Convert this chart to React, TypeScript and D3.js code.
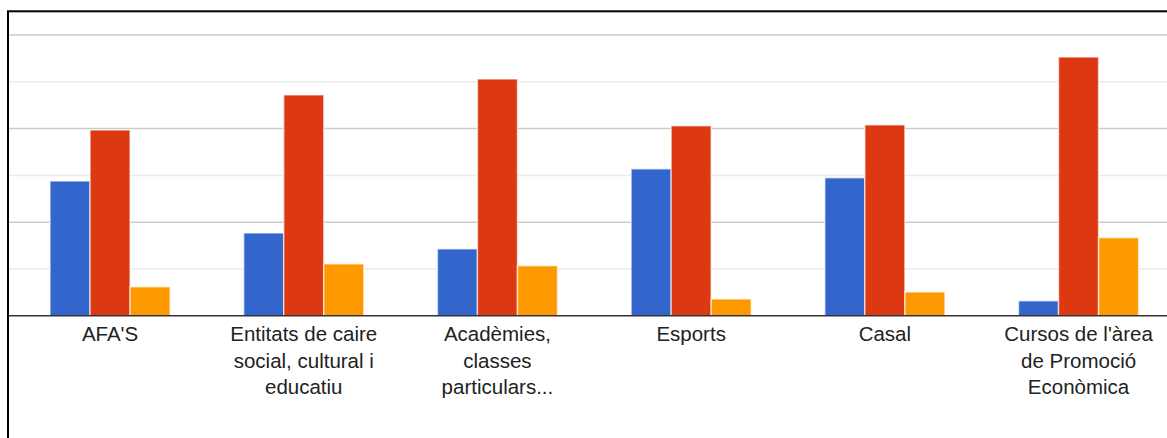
import React from "react";
import * as d3 from "d3";

const categories = ["AFA'S", "Entitats", "Acadèmies", "Esports", "Casal", "Cursos"];
const categoryLabels: string[][] = [
  ["AFA'S"],
  ["Entitats de caire", "social, cultural i", "educatiu"],
  ["Acadèmies,", "classes", "particulars..."],
  ["Esports"],
  ["Casal"],
  ["Cursos de l'àrea", "de Promoció", "Econòmica"],
];
const seriesNames = ["s1", "s2", "s3"];
const series1 = [2.88, 1.77, 1.43, 3.14, 2.95, 0.32];
const series2 = [3.97, 4.72, 5.06, 4.06, 4.08, 5.53];
const series3 = [0.62, 1.11, 1.07, 0.36, 0.51, 1.67];
const seriesValues = [series1, series2, series3];
const colors = ["#3366cc", "#dc3912", "#ff9900"];
const gridTicks = [1, 2, 3, 4, 5, 6];

const W = 1167;
const H = 438;

export default function App() {
  const y = d3.scaleLinear().domain([0, 6]).range([315.8, 35]);
  const x = d3
    .scaleBand<string>()
    .domain(categories)
    .range([13.2, 1175.4])
    .paddingInner(0.38)
    .paddingOuter(0.19);
  const xs = d3
    .scaleBand<string>()
    .domain(seriesNames)
    .range([0, x.bandwidth()])
    .padding(0);

  return (
    <svg
      width={W}
      height={H}
      style={{ position: "absolute", left: 0, top: 0, background: "#fff" }}
    >
      <rect x={0} y={0} width={W} height={H} fill="#fff" />
      {gridTicks.map((t) => (
        <line
          key={t}
          x1={8}
          x2={W}
          y1={y(t)}
          y2={y(t)}
          stroke={t % 2 === 0 ? "#cccccc" : "#ebebeb"}
          strokeWidth={1.5}
        />
      ))}
      {categories.map((c, i) => (
        <g key={c} transform={`translate(${x(c)},0)`}>
          {seriesValues.map((vals, s) => (
            <rect
              key={s}
              x={xs(seriesNames[s])!}
              y={y(vals[i])}
              width={xs.bandwidth()}
              height={y(0) - y(vals[i])}
              fill={colors[s]}
              stroke="#ffffff"
              strokeOpacity={0.6}
              strokeWidth={1.5}
            />
          ))}
        </g>
      ))}
      <line x1={8} x2={W} y1={y(0)} y2={y(0)} stroke="#333333" strokeWidth={1.5} />
      {categories.map((c, i) => (
        <text
          key={c}
          x={x(c)! + x.bandwidth() / 2}
          y={341}
          textAnchor="middle"
          fontFamily="Liberation Sans, Arial, sans-serif"
          fontSize={20.5}
          fill="#222222"
        >
          {categoryLabels[i].map((line, j) => (
            <tspan key={j} x={x(c)! + x.bandwidth() / 2} dy={j === 0 ? 0 : 26.5}>
              {line}
            </tspan>
          ))}
        </text>
      ))}
      <rect x={8} y={11.3} width={W + 10} height={H + 10} fill="none" stroke="#000" strokeWidth={2} />
    </svg>
  );
}
